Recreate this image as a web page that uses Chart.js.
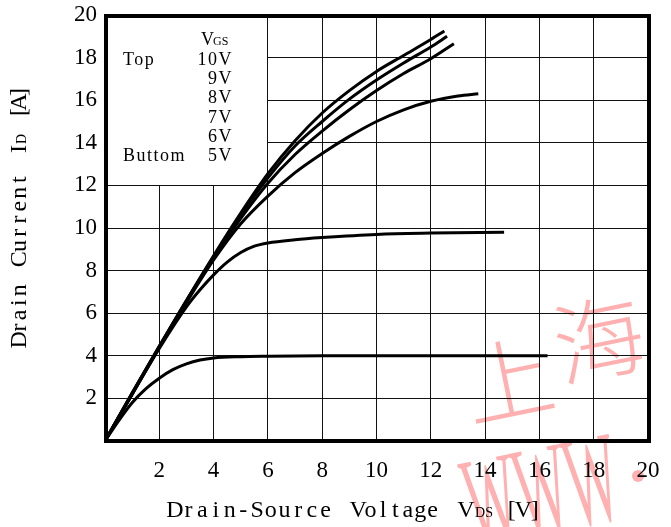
<!DOCTYPE html>
<html>
<head>
<meta charset="utf-8">
<title>Output Characteristics</title>
<script src="https://cdn.jsdelivr.net/npm/chart.js"></script>
<style>
    body { margin: 0; background: #fff; }
    #wrap { width: 671px; height: 527px; }
</style>
</head>
<body>
<div id="wrap"><canvas id="outChart" width="671" height="527"></canvas></div>
<script>
// curves, VDS [V] / ID [A]
const vds10 = [0, 1, 2, 3, 4, 5, 6, 7, 8, 9, 10, 11, 12, 12.5];
const id10  = [0, 2.25, 4.45, 6.6, 8.7, 10.7, 12.55, 14.1, 15.4, 16.45, 17.35, 18.1, 18.85, 19.25];
const vds9  = [0, 1, 2, 3, 4, 5, 6, 7, 8, 9, 10, 11, 12, 12.6];
const id9   = [0, 2.25, 4.45, 6.6, 8.65, 10.6, 12.35, 13.85, 15.0, 16.05, 16.95, 17.75, 18.5, 19.0];
const vds8  = [0, 1, 2, 3, 4, 5, 6, 7, 8, 9, 10, 11, 12, 12.85];
const id8   = [0, 2.2, 4.4, 6.55, 8.6, 10.45, 12.1, 13.45, 14.55, 15.55, 16.45, 17.25, 17.95, 18.65];
const vds7  = [0, 1, 2, 3, 4, 5, 6, 7, 8, 9, 10, 11, 12, 13, 13.75];
const id7   = [0, 2.2, 4.4, 6.5, 8.5, 10.2, 11.5, 12.6, 13.5, 14.3, 15.0, 15.55, 15.95, 16.2, 16.3];
const vds6  = [0, 1, 2, 3, 3.5, 4, 4.5, 5, 5.5, 6, 7, 8, 10, 12, 14.7];
const id6   = [0, 2.2, 4.35, 6.3, 7.1, 7.8, 8.4, 8.85, 9.15, 9.3, 9.45, 9.55, 9.7, 9.76, 9.8];
const vds5  = [0, 0.5, 1, 1.5, 2, 2.5, 3, 3.5, 4, 5, 6, 8, 10, 12, 14, 16.3];
const id5   = [0, 0.95, 1.8, 2.45, 2.95, 3.35, 3.62, 3.8, 3.9, 3.96, 3.98, 4.0, 4.0, 4.0, 4.0, 4.0];

const vgsLabels = ['10V', '9V', '8V', '7V', '6V', '5V'];
const xTicks = [0, 2, 4, 6, 8, 10, 12, 14, 16, 18, 20];
const yTicks = [0, 2, 4, 6, 8, 10, 12, 14, 16, 18, 20];

const serif = "'Liberation Serif', 'DejaVu Serif', serif";

function pts(xs, ys) {
    return xs.map((v, i) => ({ x: v, y: ys[i] }));
}

// draw a word one glyph per cell, like the fixed-pitch datasheet font
function cells(ctx, str, x, y, adv) {
    for (let i = 0; i < str.length; i++) {
        ctx.fillText(str[i], x + adv * i + adv / 2, y);
    }
}

const watermark = {
    id: 'watermark',
    beforeDraw(chart) {
        const ctx = chart.ctx;
        ctx.save();
        ctx.fillStyle = '#ffb0b0';
        ctx.textAlign = 'center';
        ctx.textBaseline = 'middle';
        ctx.font = "300 90px 'Noto Sans CJK SC'";
        ctx.translate(545, 350);
        ctx.rotate(-0.2);
        ctx.fillText('上', -42, 22);
        ctx.fillText('海', 55, 0);
        ctx.restore();

        ctx.save();
        ctx.fillStyle = '#ffb0b0';
        ctx.translate(474, 548);
        ctx.rotate(-0.2);
        ctx.scale(0.42, 1);
        ctx.font = "130px " + serif;
        ctx.textBaseline = 'alphabetic';
        ctx.fillText('WWW', 0, 0);
        ctx.restore();

        ctx.save();
        ctx.fillStyle = '#ffb0b0';
        ctx.beginPath();
        ctx.arc(638, 476, 6, 0, Math.PI * 2);
        ctx.fill();
        ctx.restore();
    }
};

const frame = {
    id: 'frame',
    beforeDatasetsDraw(chart) {
        const { ctx, chartArea: a, scales: { x, y } } = chart;
        ctx.save();
        // upper-left legend box has no grid
        const bx = Math.round(x.getPixelForValue(6) - 0.5);
        const by = Math.round(y.getPixelForValue(12) - 0.5);
        ctx.fillStyle = '#fff';
        ctx.fillRect(a.left, a.top, bx - a.left, by - a.top);

        ctx.fillStyle = '#000';
        ctx.textBaseline = 'middle';
        ctx.font = '18px ' + serif;
        ctx.letterSpacing = '1.5px';
        const colR = a.left + 128;
        const row0 = a.top + 45;
        const rowH = 19.3;
        ctx.textAlign = 'right';
        vgsLabels.forEach((t, i) => {
            ctx.fillText(t, colR, row0 + rowH * i);
        });
        ctx.textAlign = 'left';
        ctx.fillText('Top', a.left + 18, row0);
        ctx.fillText('Buttom', a.left + 18, row0 + rowH * 5);
        ctx.letterSpacing = '0px';
        // VGS header
        ctx.fillText('V', a.left + 96, a.top + 25);
        ctx.font = '12px ' + serif;
        ctx.fillText('GS', a.left + 108, a.top + 27);

        ctx.lineWidth = 4;
        ctx.strokeStyle = '#000';
        ctx.strokeRect(a.left + 1, a.top + 1, a.width, a.height - 1);
        ctx.restore();
    },
    afterDraw(chart) {
        const ctx = chart.ctx;
        ctx.save();
        ctx.fillStyle = '#000';
        ctx.textAlign = 'center';
        ctx.textBaseline = 'alphabetic';

        // x title
        ctx.font = '24px ' + serif;
        cells(ctx, 'Drain-Source', 168, 517, 13.7);
        cells(ctx, 'Voltage', 352, 517, 12.4);
        ctx.fillText('V', 466, 517);
        ctx.font = '14px ' + serif;
        ctx.fillText('DS', 484, 517);
        ctx.font = '24px ' + serif;
        cells(ctx, '[V]', 506, 517, 11.5);

        // y title, bottom to top
        ctx.rotate(-Math.PI / 2);
        ctx.font = '24px ' + serif;
        cells(ctx, 'Drain', -346, 26, 12.4);
        cells(ctx, 'Current', -266, 26, 13.3);
        ctx.fillText('I', -149, 26);
        ctx.font = '14px ' + serif;
        ctx.fillText('D', -139, 26);
        ctx.font = '24px ' + serif;
        cells(ctx, '[A]', -117, 26, 10);
        ctx.restore();
    }
};

const series = [
    pts(vds10, id10), pts(vds9, id9), pts(vds8, id8),
    pts(vds7, id7), pts(vds6, id6), pts(vds5, id5)
];

new Chart(document.getElementById('outChart'), {
    type: 'line',
    data: {
        datasets: series.map((d, i) => ({
            label: 'VGS ' + vgsLabels[i],
            data: d,
            borderColor: '#000',
            borderWidth: 3,
            pointRadius: 0,
            fill: false,
            cubicInterpolationMode: 'monotone'
        }))
    },
    options: {
        responsive: false,
        animation: false,
        layout: { autoPadding: false, padding: { top: 15, right: 23, left: 0, bottom: 0 } },
        plugins: { legend: { display: false }, tooltip: { enabled: false } },
        scales: {
            x: {
                type: 'linear',
                min: 0,
                max: 20,
                afterBuildTicks: s => { s.ticks = xTicks.map(v => ({ value: v })); },
                afterFit: s => {
                    s.height = 86;
                    s.paddingLeft = 0;
                    s.paddingRight = 0;
                },
                ticks: {
                    color: '#000',
                    font: { family: serif, size: 23 },
                    padding: 16,
                    maxRotation: 0,
                    callback: v => v === 0 ? '' : v
                },
                grid: { color: '#111', lineWidth: 1, drawTicks: false },
                border: { display: false }
            },
            y: {
                min: 0,
                max: 20,
                afterBuildTicks: s => { s.ticks = yTicks.map(v => ({ value: v })); },
                afterFit: s => {
                    s.width = 105;
                    s.paddingTop = 0;
                    s.paddingBottom = 0;
                },
                ticks: {
                    color: '#000',
                    font: { family: serif, size: 23 },
                    padding: 8,
                    callback: v => v === 0 ? '' : v
                },
                grid: { color: '#111', lineWidth: 1, drawTicks: false },
                border: { display: false }
            }
        }
    },
    plugins: [watermark, frame]
});
</script>
</body>
</html>
